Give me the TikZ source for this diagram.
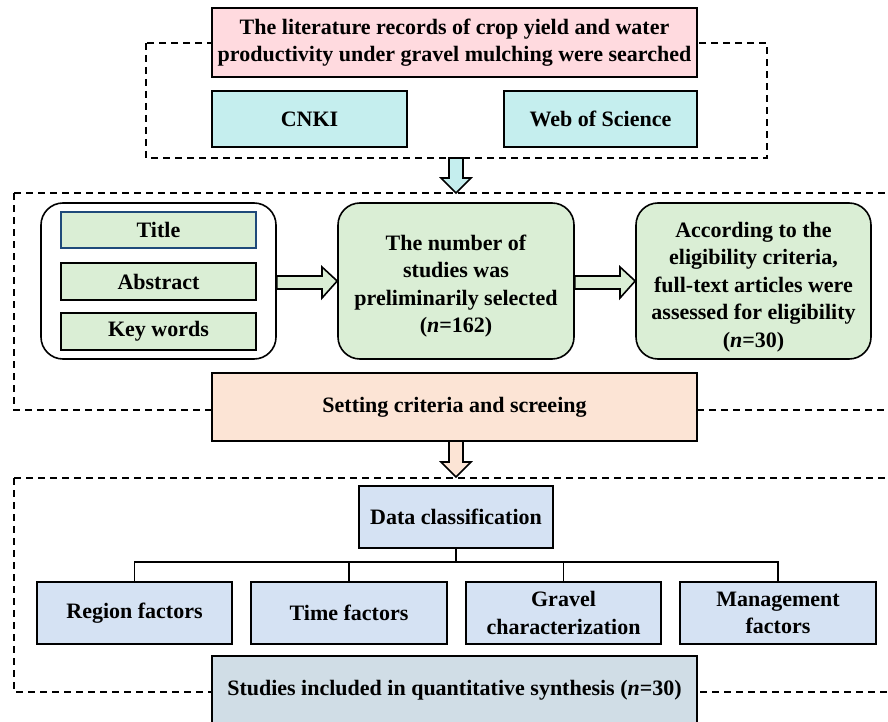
\documentclass[tikz,border=0pt]{standalone}
\usepackage{fontspec}
\setmainfont{Liberation Serif}
\begin{document}
\begin{tikzpicture}[x=1pt,y=-1pt,
  box/.style={draw=black, line width=1.6pt, inner sep=0pt, align=center,
    font=\fontsize{22}{27.5}\selectfont\bfseries},
  txt/.style={inner sep=0pt, align=center, font=\fontsize{22}{27.5}\selectfont\bfseries},
  dbox/.style={draw=black, line width=1.5pt, dash pattern=on 7pt off 5pt},
  conn/.style={draw=black, line width=1.6pt},
  barrow/.style={draw=black, line width=1.6pt, line join=miter}]
\definecolor{cpink}{HTML}{FFDADF}
\definecolor{ccyan}{HTML}{C5EEEE}
\definecolor{cgreen}{HTML}{DAEED5}
\definecolor{cpeach}{HTML}{FCE4D5}
\definecolor{cblue}{HTML}{D5E2F3}
\definecolor{cgray}{HTML}{D0DDE6}
\definecolor{cnavy}{HTML}{1F4A7A}
\useasboundingbox (0,0) rectangle (888,722);
\clip (0,0) rectangle (888,722);
\fill[white] (0,0) rectangle (888,722);

% dashed frames
\draw[dbox] (146,43) rectangle (767,158);
\draw[dbox] (14,193) -- (900,193);
\draw[dbox] (14,193) -- (14,410) -- (900,410);
\draw[dbox] (14,478) -- (900,478);
\draw[dbox] (14,478) -- (14,692) -- (900,692);

% top group
\node[box, fill=cpink, minimum width=485pt, minimum height=69pt] (top) at (454.5,42.5)
  {The literature records of crop yield and water\\productivity under gravel mulching were searched};
\node[box, fill=ccyan, minimum width=195pt, minimum height=56pt] (cnki) at (309.5,119) {CNKI};
\node[box, fill=ccyan, minimum width=193pt, minimum height=56pt] (wos) at (600.5,119) {Web of Science};

% arrow 1
\draw[barrow, fill=ccyan] (449,158) -- (463,158) -- (463,178) -- (471,178) -- (456,193)
  -- (441,178) -- (449,178) -- cycle;

% middle group
\node[box, fill=white, rounded corners=22pt, minimum width=235pt, minimum height=156pt] (kwgroup) at (158.5,281) {};
\node[box, draw=cnavy, fill=cgreen, minimum width=195pt, minimum height=36pt] (title) at (158.5,230) {Title};
\node[box, fill=cgreen, minimum width=195pt, minimum height=37pt] (abstract) at (158.5,281.5) {Abstract};
\node[box, fill=cgreen, minimum width=195pt, minimum height=37pt] (keywords) at (158.5,331.5) {Key words};
\node[box, fill=cgreen, rounded corners=22pt, minimum width=236pt, minimum height=156pt] (prelim) at (456,281) {};
\node[txt] (prelimtext) at ([yshift=-5pt]prelim.center)
  {The number of\\studies was\\preliminarily selected\\(\textit{n}=162)};
\node[box, fill=cgreen, rounded corners=22pt, minimum width=235pt, minimum height=156pt] (elig) at (753.5,281) {};
\node[txt] (eligtext) at ([yshift=-6pt]elig.center)
  {According to the\\eligibility criteria,\\full-text articles were\\assessed for eligibility\\(\textit{n}=30)};

% side arrows
\draw[barrow, fill=cgreen] (kwgroup.east |- 0,276) -- (322,276) -- (322,267) -- (prelim.west) -- (322,298)
  -- (322,289) -- (kwgroup.east |- 0,289) -- cycle;
\draw[barrow, fill=cgreen] (prelim.east |- 0,276) -- (620,276) -- (620,267) -- (elig.west) -- (620,298)
  -- (620,289) -- (prelim.east |- 0,289) -- cycle;

\node[box, fill=cpeach, minimum width=485pt, minimum height=68pt] (setting) at (454.5,407)
  {Setting criteria and screeing};

% arrow 2
\draw[barrow, fill=cpeach] (449,441) -- (463,441) -- (463,462) -- (471,462) -- (456,477)
  -- (441,462) -- (449,462) -- cycle;

% bottom group
\node[box, fill=cblue, minimum width=194pt, minimum height=62pt] (dc) at (456,517) {Data classification};
\node[box, fill=cblue, minimum width=195pt, minimum height=62pt] (region) at (134.5,613) {Region factors};
\node[box, fill=cblue, minimum width=196pt, minimum height=62pt] (time) at (349,613) {Time factors};
\node[box, fill=cblue, minimum width=195pt, minimum height=62pt] (gravel) at (563.5,613) {Gravel\\characterization};
\node[box, fill=cblue, minimum width=196pt, minimum height=62pt] (mgmt) at (778,613) {Management\\factors};
\coordinate (bar) at (456,562);
\draw[conn] (dc.south) -- (bar);
\draw[conn] (region.north) -- (region.north |- bar) -- (mgmt.north |- bar) -- (mgmt.north);
\draw[conn] (time.north) -- (time.north |- bar);
\draw[conn] (gravel.north) -- (gravel.north |- bar);

\node[box, fill=cgray, minimum width=485pt, minimum height=68pt] (studies) at (454.5,690)
  {Studies included in quantitative synthesis (\textit{n}=30)};
\end{tikzpicture}
\end{document}
